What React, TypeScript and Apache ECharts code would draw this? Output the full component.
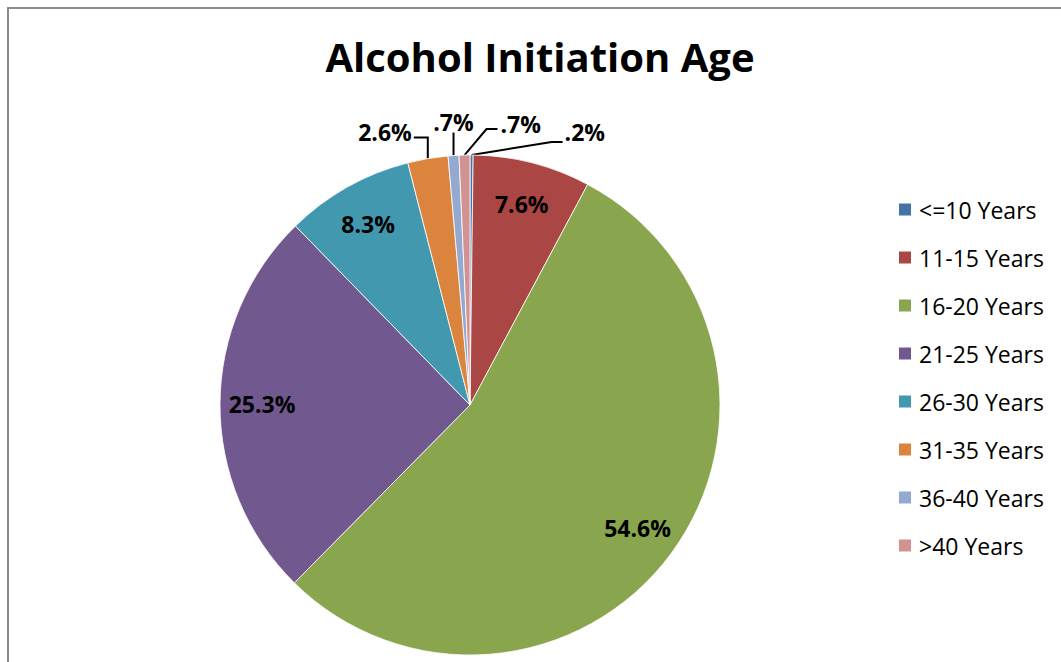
import React, { useEffect, useRef } from "react";
import * as echarts from "echarts";

const categories = ["<=10 Years", "11-15 Years", "16-20 Years", "21-25 Years", "26-30 Years", "31-35 Years", "36-40 Years", ">40 Years"];
const values = [0.2, 7.6, 54.6, 25.3, 8.3, 2.6, 0.7, 0.7];
const labelTexts = [".2%", "7.6%", "54.6%", "25.3%", "8.3%", "2.6%", ".7%", ".7%"];
const colors = ["#4572A7", "#AA4643", "#89A54E", "#71588F", "#4198AF", "#DB843D", "#93A9CF", "#D19392"];
const insideIdx = [1, 2, 3, 4];

const FONT = "'Open Sans', sans-serif";

export default function App() {
  const ref = useRef<HTMLDivElement>(null);
  useEffect(() => {
    if (!ref.current) return;
    const chart = echarts.init(ref.current, null, { renderer: "svg" });
    const cx = 470;
    const cy = 405;
    const R = 250;

    const outerLayout = (params: any) => {
      const i = params.dataIndex;
      const pts = params.labelLinePoints;
      if (!pts || insideIdx.includes(i)) return {};
      const p0 = pts[0];
      const [x, y] = p0;
      if (i === 5) {
        return { x: x - 16, y: y - 27, align: "right", verticalAlign: "middle", labelLinePoints: [[x, y], [x, y - 21], [x, y - 21], [x - 14, y - 21]] };
      }
      if (i === 6) {
        return { x: x, y: y - 22, align: "center", verticalAlign: "bottom", labelLinePoints: [[x, y], [x, y - 23], [x, y - 23], [x, y - 23]] };
      }
      if (i === 7) {
        return { x: x + 36, y: y - 31, align: "left", verticalAlign: "middle", labelLinePoints: [[x, y], [x + 22, y - 26], [x + 22, y - 26], [x + 33, y - 26]] };
      }
      if (i === 0) {
        return { x: x + 93, y: y - 23, align: "left", verticalAlign: "middle", labelLinePoints: [[x, y], [x + 80, y - 13], [x + 80, y - 13], [x + 91, y - 13]] };
      }
      return {};
    };

    const mainData = categories.map((name, i) => ({
      name,
      value: values[i],
      itemStyle: { color: colors[i] },
      label: {
        show: !insideIdx.includes(i),
        formatter: labelTexts[i],
      },
      labelLine: { show: !insideIdx.includes(i) },
    }));

    const labelData = categories.map((name, i) => ({
      name,
      value: values[i],
      label: { show: insideIdx.includes(i), formatter: labelTexts[i] },
    }));

    chart.setOption({
      animation: false,
      backgroundColor: "#ffffff",
      title: {
        text: "Alcohol Initiation Age",
        left: 535,
        top: 31,
        textAlign: "center",
        textStyle: { fontFamily: FONT, fontSize: 40, fontWeight: "bold", color: "#000" },
      },
      legend: {
        orient: "vertical",
        left: 897,
        top: 198,
        padding: 0,
        itemWidth: 14,
        itemHeight: 14,
        itemGap: 25,
        icon: "rect",
        data: categories,
        textStyle: { fontFamily: FONT, fontSize: 23, color: "#000", padding: [0, 0, 0, 2] },
      },
      graphic: [
        {
          type: "rect",
          shape: { x: 8, y: 8, width: 1200, height: 800 },
          style: { fill: "none", stroke: "#8c8c8c", lineWidth: 2 },
          silent: true,
        },
      ],
      series: [
        {
          type: "pie",
          center: [cx, cy],
          radius: [0, R],
          startAngle: 90,
          clockwise: true,
          avoidLabelOverlap: false,
          itemStyle: { borderColor: "#ffffff", borderWidth: 0.8 },
          label: {
            position: "outside",
            fontFamily: FONT,
            fontSize: 23,
            fontWeight: "bold",
            color: "#000",
          },
          labelLine: { length: 20, length2: 15, lineStyle: { color: "#000", width: 2 } },
          labelLayout: outerLayout,
          data: mainData,
        },
        {
          type: "pie",
          center: [cx, cy],
          radius: [160, R],
          startAngle: 90,
          clockwise: true,
          silent: true,
          avoidLabelOverlap: false,
          itemStyle: { color: "rgba(0,0,0,0)", borderWidth: 0 },
          label: {
            position: "inside",
            fontFamily: FONT,
            fontSize: 23,
            fontWeight: "bold",
            color: "#000",
          },
          labelLine: { show: false },
          data: labelData,
        },
      ],
    });
    return () => chart.dispose();
  }, []);
  return <div ref={ref} style={{ position: "absolute", left: 0, top: 0, width: 1061, height: 662 }} />;
}
